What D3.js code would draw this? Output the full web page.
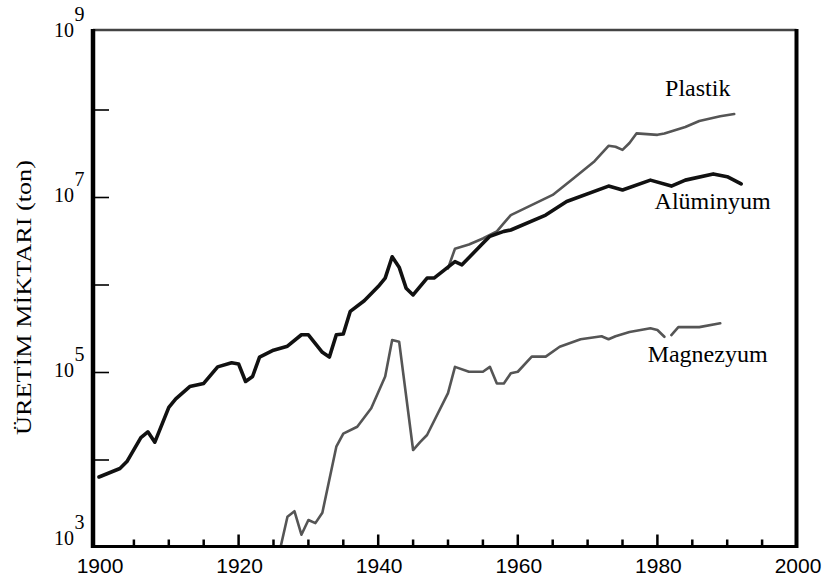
<!DOCTYPE html>
<html>
<head>
<meta charset="utf-8">
<script src="https://cdn.jsdelivr.net/npm/d3@7"></script>
<style>
  body { margin: 0; background: #ffffff; }
  svg { display: block; }
</style>
</head>
<body>
<svg id="chart" width="825" height="582"></svg>
<script>
// World production, tonnes per year (log scale)
const aluminyumYears = [1900, 1903, 1904, 1906, 1907, 1908, 1910, 1911, 1913, 1915, 1917, 1919, 1920, 1921, 1922, 1923, 1925, 1927, 1929, 1930, 1932, 1933, 1934, 1935, 1936, 1938, 1940, 1941, 1942, 1943, 1944, 1945, 1947, 1948, 1951, 1952, 1955, 1956, 1958, 1959, 1964, 1967, 1973, 1975, 1979, 1982, 1984, 1988, 1990, 1992];
const aluminyumValues = [6.4e3, 8.0e3, 9.6e3, 1.8e4, 2.1e4, 1.6e4, 4.0e4, 5.0e4, 6.9e4, 7.5e4, 1.16e5, 1.29e5, 1.25e5, 7.9e4, 9.0e4, 1.5e5, 1.8e5, 2.0e5, 2.7e5, 2.7e5, 1.7e5, 1.5e5, 2.7e5, 2.75e5, 5.0e5, 6.6e5, 9.6e5, 1.2e6, 2.1e6, 1.6e6, 9.2e5, 7.7e5, 1.2e6, 1.2e6, 1.85e6, 1.7e6, 3.0e6, 3.6e6, 4.1e6, 4.25e6, 6.3e6, 9.0e6, 1.35e7, 1.22e7, 1.58e7, 1.35e7, 1.58e7, 1.86e7, 1.73e7, 1.43e7];

const plastikYears = [1950, 1951, 1953, 1955, 1957, 1958, 1959, 1961, 1965, 1968, 1971, 1973, 1974, 1975, 1976, 1977, 1980, 1981, 1984, 1986, 1989, 1991];
const plastikValues = [1.55e6, 2.6e6, 2.9e6, 3.4e6, 4.1e6, 5.1e6, 6.3e6, 7.5e6, 1.07e7, 1.66e7, 2.6e7, 3.9e7, 3.8e7, 3.5e7, 4.2e7, 5.4e7, 5.2e7, 5.4e7, 6.4e7, 7.5e7, 8.5e7, 9.0e7];

// null marks a break in the record
const magnezyumYears = [1926, 1927, 1928, 1929, 1930, 1931, 1932, 1934, 1935, 1937, 1939, 1941, 1942, 1943, 1945, 1946, 1947, 1950, 1951, 1953, 1955, 1956, 1957, 1958, 1959, 1960, 1962, 1964, 1966, 1969, 1972, 1973, 1974, 1976, 1979, 1980, 1981, 1981.5, 1982, 1983, 1986, 1989];
const magnezyumValues = [1.0e3, 2.25e3, 2.6e3, 1.4e3, 2.06e3, 1.9e3, 2.5e3, 1.42e4, 2.0e4, 2.4e4, 3.9e4, 9.0e4, 2.35e5, 2.25e5, 1.3e4, 1.6e4, 1.93e4, 5.8e4, 1.16e5, 1.02e5, 1.02e5, 1.16e5, 7.5e4, 7.5e4, 9.8e4, 1.02e5, 1.52e5, 1.52e5, 1.97e5, 2.4e5, 2.6e5, 2.4e5, 2.6e5, 2.9e5, 3.2e5, 3.06e5, 2.56e5, null, 2.68e5, 3.3e5, 3.3e5, 3.65e5];

const seriesNames = ["Plastik", "Alüminyum", "Magnezyum"];
const xLabelYears = [1900, 1920, 1940, 1960, 1980, 2000];
const xMinorTickYears = d3.range(1905, 2000, 5);
const yLabelExponents = [3, 5, 7, 9];
const yMajorTickValues = [1e4, 1e5, 1e6, 1e7, 1e8];
const yAxisTitle = "ÜRETİM MİKTARI (ton)";

const svg = d3.select("#chart");
const W = 825, H = 582;
svg.append("rect").attr("width", W).attr("height", H).attr("fill", "#fff");

// plot frame
const frame = { left: 93, right: 796.5, top: 30, bottom: 546.5 };

const x = d3.scaleLinear().domain([1900, 2000]).range([99, 797]);
const y = d3.scaleLog().domain([1e3, 1e9]).range([547.5, 22.5]);

const serif = "'Liberation Serif', 'Times New Roman', serif";
const sans = "'Liberation Sans', Arial, sans-serif";

svg.append("clipPath").attr("id", "plot-clip")
  .append("rect")
  .attr("x", frame.left).attr("y", frame.top)
  .attr("width", frame.right - frame.left).attr("height", frame.bottom - frame.top);

// x ticks: every 5 years, longer every 20
svg.append("g").selectAll("line").data(xMinorTickYears).join("line")
  .attr("x1", d => x(d)).attr("x2", d => x(d))
  .attr("y1", frame.bottom)
  .attr("y2", d => frame.bottom - (d % 20 === 0 ? 12 : 7))
  .attr("stroke", "#000").attr("stroke-width", 2.5);

// y ticks: one per decade
svg.append("g").selectAll("line").data(yMajorTickValues).join("line")
  .attr("x1", frame.left).attr("x2", frame.left + 16)
  .attr("y1", d => y(d)).attr("y2", d => y(d))
  .attr("stroke", "#000").attr("stroke-width", 1.6);

// x labels
svg.append("g").selectAll("text").data(xLabelYears).join("text")
  .attr("x", d => x(d) + 1).attr("y", 573)
  .attr("text-anchor", "middle")
  .attr("font-family", sans).attr("font-size", 21)
  .attr("fill", "#000")
  .text(d => d);

// y labels: 10 with a raised exponent
const yLab = svg.append("g").attr("font-family", serif).attr("fill", "#000");
yLabelExponents.forEach(e => {
  const base = Math.min(Math.max(y(Math.pow(10, e)) + 4, frame.top + 7), frame.bottom - 1.5);
  yLab.append("text")
    .attr("x", 74).attr("y", base)
    .attr("text-anchor", "end").attr("font-size", 20)
    .text("10");
  yLab.append("text")
    .attr("x", 74.5).attr("y", base - 16)
    .attr("text-anchor", "start").attr("font-size", 20)
    .text(e);
});

// y axis title
svg.append("text")
  .attr("transform", "translate(31,297.5) rotate(-90)")
  .attr("text-anchor", "middle")
  .attr("font-family", serif).attr("font-size", 22)
  .attr("textLength", 275).attr("lengthAdjust", "spacingAndGlyphs")
  .attr("fill", "#000")
  .text(yAxisTitle);

// series lines
const line = d3.line()
  .defined(d => d.v != null)
  .x(d => x(d.t))
  .y(d => y(d.v));

const zip = (ts, vs) => ts.map((t, i) => ({ t, v: vs[i] }));

const plot = svg.append("g").attr("clip-path", "url(#plot-clip)");

plot.append("path")
  .datum(zip(plastikYears, plastikValues))
  .attr("d", line)
  .attr("fill", "none").attr("stroke", "#555").attr("stroke-width", 2.6)
  .attr("stroke-linejoin", "round").attr("stroke-linecap", "round");

plot.append("path")
  .datum(zip(magnezyumYears, magnezyumValues))
  .attr("d", line)
  .attr("fill", "none").attr("stroke", "#555").attr("stroke-width", 2.6)
  .attr("stroke-linejoin", "round").attr("stroke-linecap", "round");

plot.append("path")
  .datum(zip(aluminyumYears, aluminyumValues))
  .attr("d", line)
  .attr("fill", "none").attr("stroke", "#111").attr("stroke-width", 3.6)
  .attr("stroke-linejoin", "round").attr("stroke-linecap", "round");

// frame
svg.append("line").attr("x1", frame.left).attr("x2", frame.right)
  .attr("y1", frame.top).attr("y2", frame.top)
  .attr("stroke", "#444").attr("stroke-width", 2.5);
svg.append("line").attr("x1", frame.right).attr("x2", frame.right)
  .attr("y1", frame.top - 1).attr("y2", frame.bottom + 1.5)
  .attr("stroke", "#000").attr("stroke-width", 4);
svg.append("line").attr("x1", frame.left).attr("x2", frame.right)
  .attr("y1", frame.bottom).attr("y2", frame.bottom)
  .attr("stroke", "#000").attr("stroke-width", 3);
svg.append("line").attr("x1", frame.left).attr("x2", frame.left)
  .attr("y1", frame.top - 1).attr("y2", frame.bottom + 1.5)
  .attr("stroke", "#000").attr("stroke-width", 4.5);

// series names beside their curves
const labelAnchors = [
  { t: 1981.1, v: Math.pow(10, 8.16) },
  { t: 1979.6, v: Math.pow(10, 6.87) },
  { t: 1978.6, v: Math.pow(10, 5.12) }
];
svg.append("g").selectAll("text").data(seriesNames).join("text")
  .attr("x", (d, i) => x(labelAnchors[i].t))
  .attr("y", (d, i) => y(labelAnchors[i].v))
  .attr("font-family", serif).attr("font-size", 24)
  .attr("fill", "#000")
  .text(d => d);
</script>
</body>
</html>
